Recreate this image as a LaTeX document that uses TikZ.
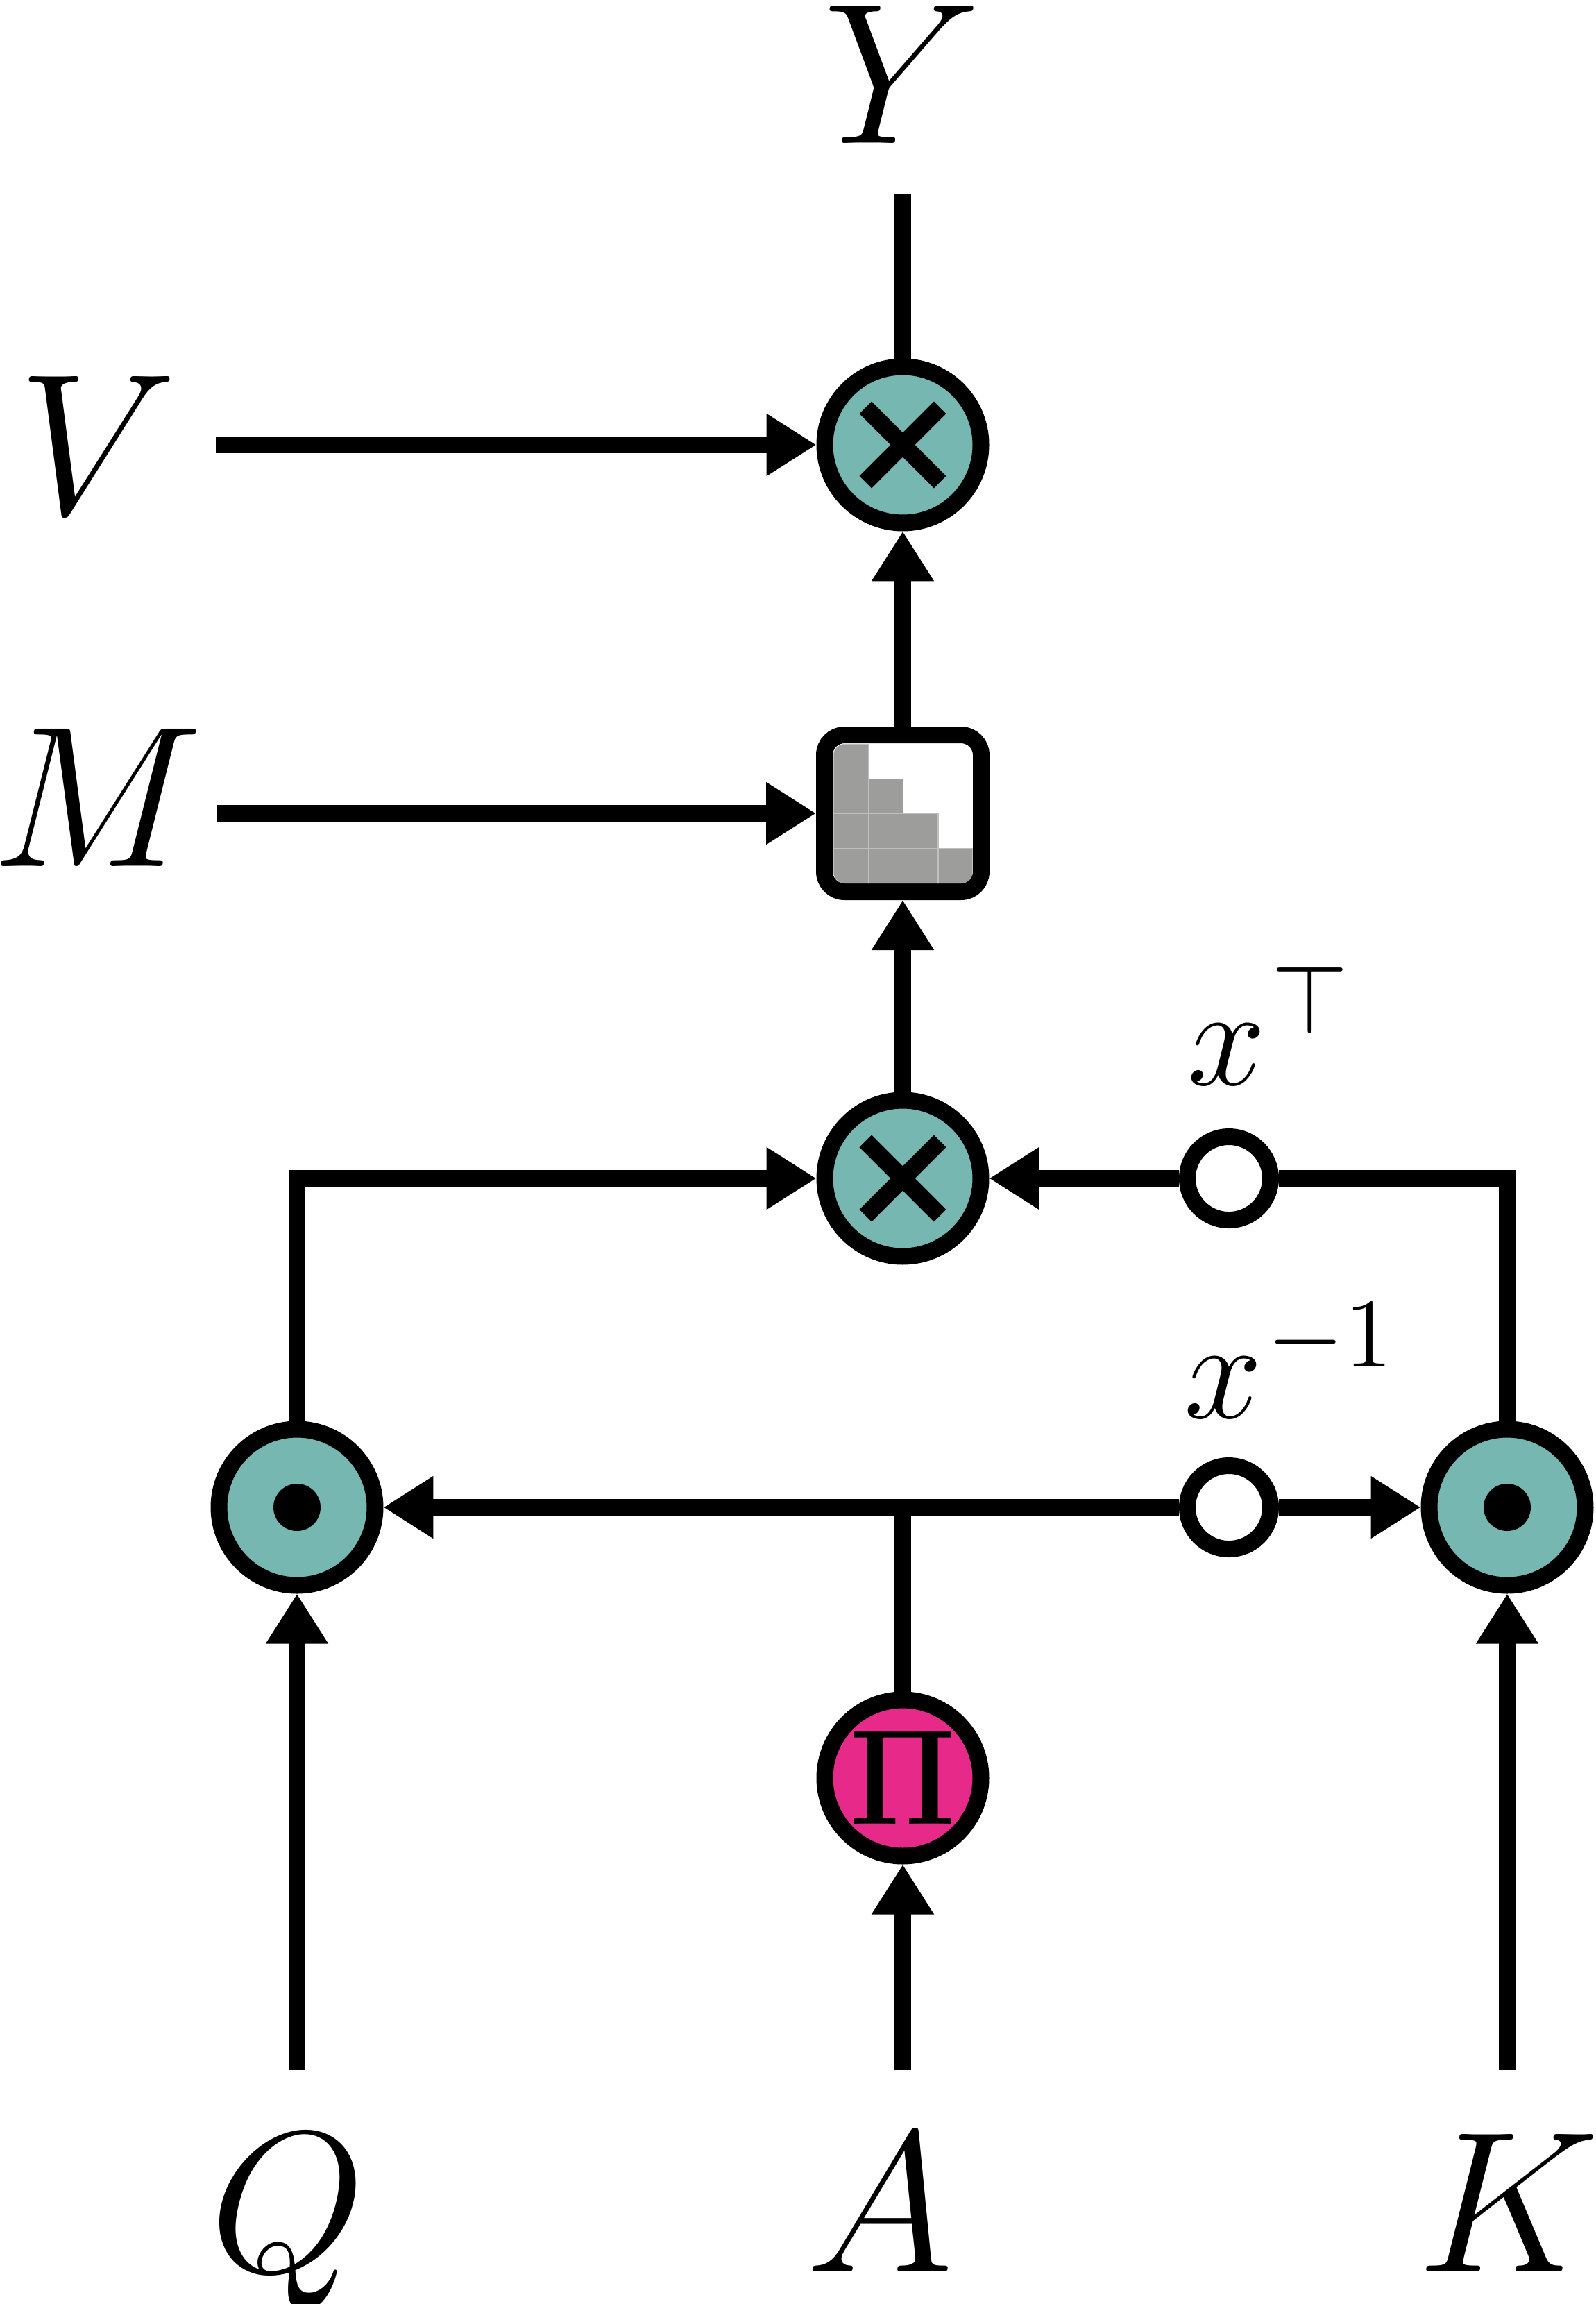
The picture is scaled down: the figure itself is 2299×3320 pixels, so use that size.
\RequirePackage{fix-cm}
\documentclass[tikz,border=0pt]{standalone}
\usepackage{graphicx}
\usetikzlibrary{arrows.meta}
\definecolor{opteal}{RGB}{118,183,178}
\definecolor{oppink}{RGB}{231,41,138}
\definecolor{maskgray}{RGB}{157,157,156}
\definecolor{gridgray}{RGB}{192,192,192}
\begin{document}
\begin{tikzpicture}[x=0.1pt,y=-0.1pt,
  wire/.style={line width=2.4pt},
  arrow/.style={wire,-{Triangle[length=7.2pt,width=8.5pt]}},
  op/.style={circle,draw,line width=2.4pt,fill=opteal,minimum size=22.5pt,inner sep=0pt},
  mulop/.style={op,path picture={
    \draw[black,line width=2.5pt]
      ([shift={(-53.7,-53.7)}]path picture bounding box.center) -- ([shift={(53.7,53.7)}]path picture bounding box.center)
      ([shift={(-53.7,53.7)}]path picture bounding box.center) -- ([shift={(53.7,-53.7)}]path picture bounding box.center);}},
  hadop/.style={op,path picture={\fill[black] (path picture bounding box.center) circle (3.4pt);}},
  piop/.style={op,fill=oppink,font=\fontsize{19.5}{19.5}\selectfont},
  smallop/.style={circle,draw,line width=2.4pt,fill=white,minimum size=12pt,inner sep=0pt},
  maskbox/.style={rectangle,draw,line width=2.4pt,fill=white,minimum size=22.6pt,inner sep=0pt,rounded corners=2.9pt},
  lab/.style={font=\fontsize{29}{35}\selectfont,inner sep=0pt,anchor=base},
  slab/.style={font=\fontsize{20.3}{24}\selectfont,inner sep=0pt,anchor=base}
]
\useasboundingbox (0,0) rectangle (2299,3320);

% operator nodes
\node[mulop] (top) at (1301,641) {};
\node[maskbox] (mask) at (1301,1172) {};
\begin{scope}
  \clip[rounded corners=1.7pt] (1201,1072) rectangle (1402,1273);
  \foreach \i in {0,...,3}{
    \foreach \j in {\i,...,3}{
      \filldraw[fill=maskgray,draw=gridgray,line width=0.15pt]
        ({1201+50.25*\i},{1072+50.25*\j}) rectangle +(50.25,50.25);
    }
  }
\end{scope}
\node[mulop] (mid) at (1301,1698) {};
\node[hadop] (ql) at (428,2172) {};
\node[hadop] (kr) at (2172,2172) {};
\node[piop] (pi) at (1301,2562) {\scalebox{0.89}[1]{$\mathbf{\Pi}$}};
\node[smallop] (tsm) at (1771,1698) {};
\node[smallop] (lsm) at (1771,2172) {};

% labels
\node[lab] (ylab) at (1300,206) {$Y$};
\node[lab] (vlab) at (141,740) {$V$};
\node[lab] (mlab) at (140,1248) {$M$};
\node[lab] (qlab) at (415,3273) {$Q$};
\node[lab] (alab) at (1268,3273) {$A$};
\node[lab] (klab) at (2174,3273) {$K$};
\node[slab] (tlab) at (1830,1563) {$x^{\mkern1mu\top}$};
\node[slab] (ilab) at (1859,2043) {$x^{\mkern1mu-1}$};

% free ends
\coordinate (yend) at (1301,279);
\coordinate (vstart) at (311,641);
\coordinate (mstart) at (313,1172);
\coordinate (qstart) at (428,2983);
\coordinate (astart) at (1301,2983);
\coordinate (kstart) at (2172,2983);
\coordinate (jn) at (1301,2172);

% connectors
\draw[wire] (top.north) -- (yend);
\draw[arrow] (vstart) -- (top.west);
\draw[arrow] (mask.north) -- (top.south);
\draw[arrow] (mstart) -- (mask.west);
\draw[arrow] (mid.north) -- (mask.south);
\draw[arrow] (ql.north) |- (mid.west);
\draw[wire] (kr.north) |- (tsm.east);
\draw[arrow] (tsm.west) -- (mid.east);
\draw[wire] (pi.north) -- (jn);
\draw[arrow] (jn) -- (ql.east);
\draw[wire] (jn) -- (lsm.west);
\draw[arrow] (lsm.east) -- (kr.west);
\draw[arrow] (qstart) -- (ql.south);
\draw[arrow] (astart) -- (pi.south);
\draw[arrow] (kstart) -- (kr.south);
\end{tikzpicture}
\end{document}
